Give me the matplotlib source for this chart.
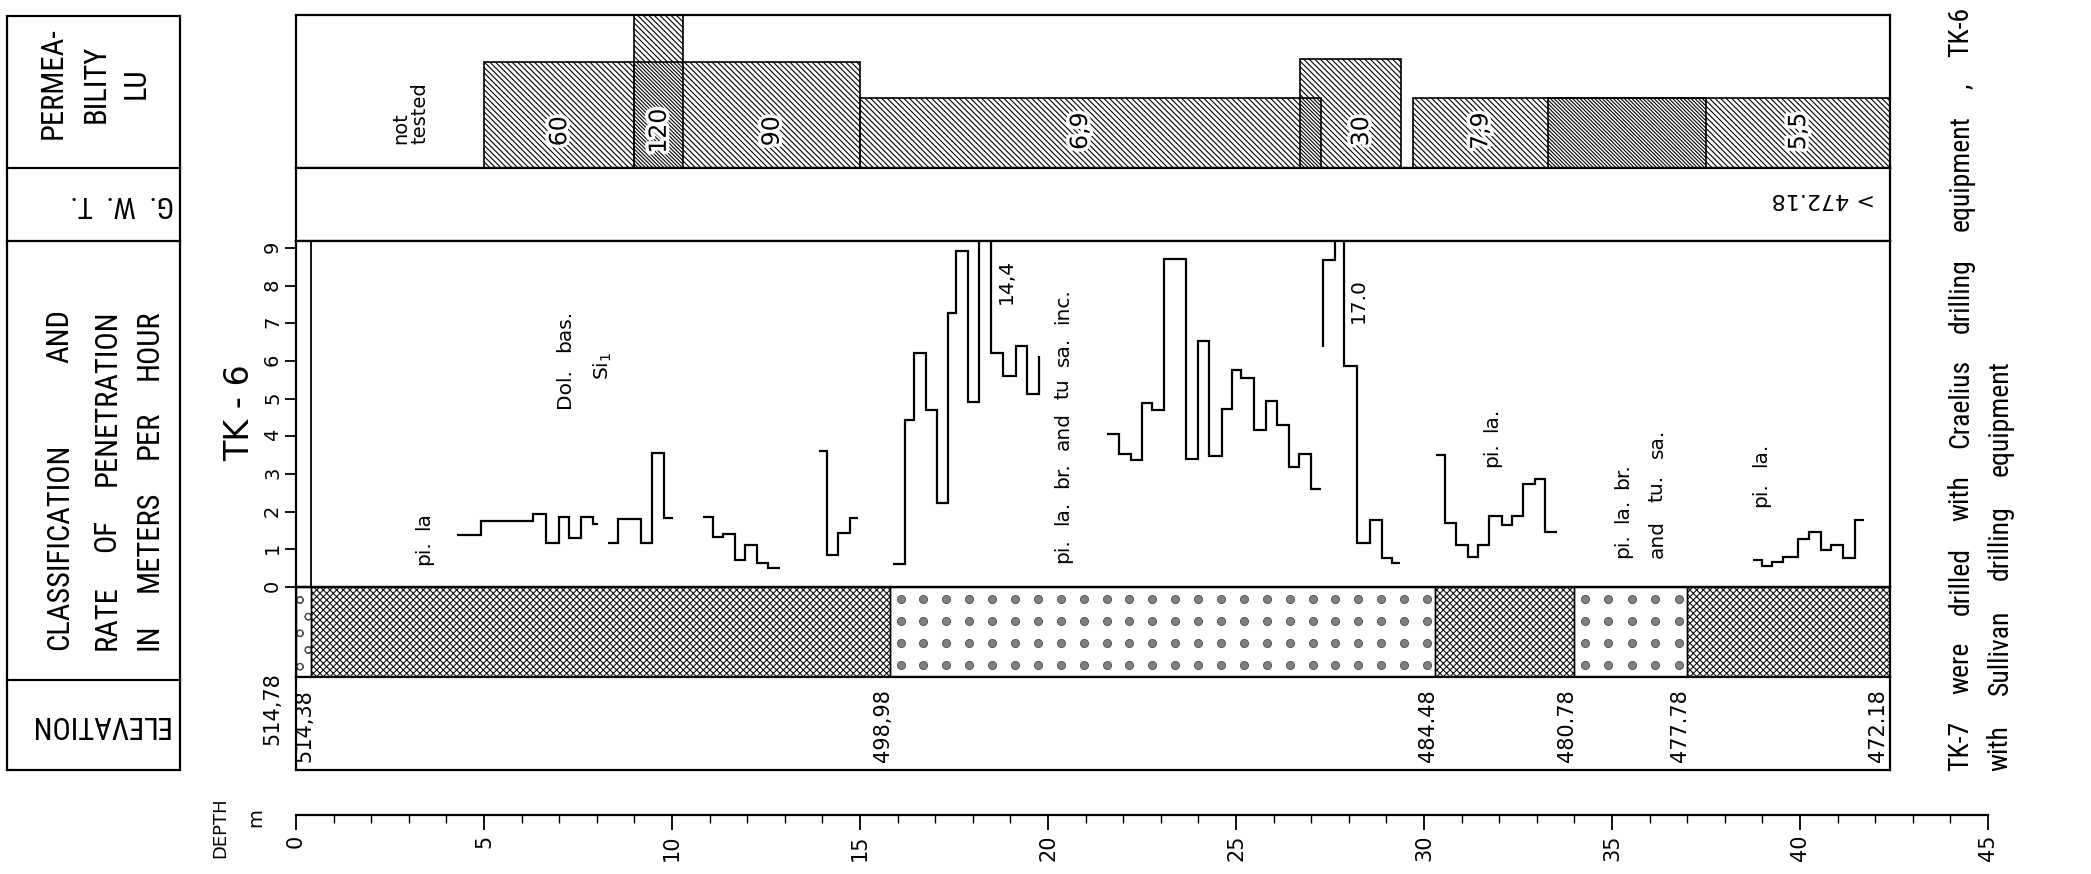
import numpy as np
import matplotlib
matplotlib.use('Agg')
import matplotlib.pyplot as plt
from matplotlib.patches import Rectangle
from matplotlib.transforms import IdentityTransform
from matplotlib import font_manager
import matplotlib.patheffects as pe

# ------------------------------------------------------------------ data
depth_major_ticks = [0, 5, 10, 15, 20, 25, 30, 35, 40, 45]
depth_minor_ticks = list(range(0, 46))
rate_ticks = [0, 1, 2, 3, 4, 5, 6, 7, 8, 9]

collar_elevation = 514.78
elev_values = [514.78, 514.38, 498.98, 484.48, 480.78, 477.78, 472.18]
elev_labels = ['514,78', '514,38', '498,98', '484.48', '480.78', '477.78', '472.18']
lith_types = ['gravel', 'lava', 'tuff', 'lava', 'tuff', 'lava']

# permeability tests (depth from / to, Lugeon value, drawn bar level 0-1)
perm_from = [5.0, 9.0, 9.0, 15.0, 26.7, 29.7, 33.3]
perm_to = [9.0, 10.3, 15.0, 27.25, 29.4, 37.5, 42.4]
perm_lu = ['60', '120', '90', '6,9', '30', '7,9', '5,5']
perm_level = [0.69, 1.0, 0.69, 0.46, 0.71, 0.46, 0.46]

gwt_label = '> 472.18'

# rate of penetration (m/h), step segments: bin edges (depth m) and values
rop_edges_1 = [4.29, 4.92, 6.31, 6.65, 7.0, 7.26, 7.57, 7.89, 8.03]
rop_values_1 = [1.38, 1.75, 1.93, 1.18, 1.87, 1.29, 1.87, 1.66]
rop_edges_2 = [8.31, 8.57, 9.18, 9.46, 9.79, 10.03]
rop_values_2 = [1.18, 1.8, 1.18, 3.57, 1.82]
rop_edges_3 = [10.82, 11.1, 11.36, 11.68, 11.95, 12.27, 12.54, 12.86]
rop_values_3 = [1.85, 1.32, 1.42, 0.72, 1.12, 0.65, 0.50]
rop_edges_4 = [13.91, 14.11, 14.42, 14.74, 14.94]
rop_values_4 = [3.62, 0.85, 1.44, 1.82]
rop_edges_5 = [15.89, 16.2, 16.44, 16.76, 17.06, 17.35, 17.55, 17.86, 18.16,
               18.48, 18.79, 19.14, 19.45, 19.77, 19.77]
rop_values_5 = [0.6, 4.43, 6.2, 4.7, 2.22, 7.28, 8.93, 4.92, 14.4,
                6.2, 5.6, 6.39, 5.12, 6.13]
rop_edges_6 = [21.58, 21.9, 22.2, 22.5, 22.77, 23.08, 23.66, 23.98, 24.29, 24.62,
               24.89, 25.13, 25.48, 25.79, 26.08, 26.4, 26.68, 27.0, 27.26]
rop_values_6 = [4.06, 3.53, 3.36, 4.88, 4.7, 8.7, 3.39, 6.54, 3.47,
                4.73, 5.76, 5.54, 4.17, 4.94, 4.3, 3.19, 3.53, 2.59]
rop_edges_7 = [27.31, 27.31, 27.62, 27.88, 28.22, 28.56, 28.88, 29.15, 29.35]
rop_values_7 = [6.36, 8.68, 17.0, 5.87, 1.16, 1.79, 0.76, 0.65]
rop_edges_8 = [30.31, 30.57, 30.85, 31.16, 31.44, 31.73, 32.07, 32.35, 32.62,
               32.94, 33.22, 33.53]
rop_values_8 = [3.5, 1.69, 1.12, 0.79, 1.12, 1.88, 1.64, 1.88, 2.73, 2.86, 1.47]
rop_edges_9 = [38.75, 38.98, 39.25, 39.56, 39.96, 40.24, 40.56, 40.83, 41.14,
               41.46, 41.69]
rop_values_9 = [0.72, 0.57, 0.67, 0.79, 1.27, 1.47, 0.98, 1.12, 0.76, 1.78]

rop_segments = [(rop_edges_1, rop_values_1), (rop_edges_2, rop_values_2),
                (rop_edges_3, rop_values_3), (rop_edges_4, rop_values_4),
                (rop_edges_5, rop_values_5), (rop_edges_6, rop_values_6),
                (rop_edges_7, rop_values_7), (rop_edges_8, rop_values_8),
                (rop_edges_9, rop_values_9)]

# ------------------------------------------------------------------ fonts
def pick_font(candidates):
    for fam in candidates:
        try:
            font_manager.findfont(font_manager.FontProperties(family=fam),
                                  fallback_to_default=False)
            return fam
        except Exception:
            pass
    return 'DejaVu Sans'

NARROW = pick_font(['Liberation Sans Narrow', 'Roboto Condensed', 'DejaVu Sans'])
ROUND = 'DejaVu Sans'
narrow_scale = 1.0 if NARROW != 'DejaVu Sans' else 0.82

plt.rcParams['font.family'] = 'DejaVu Sans'
plt.rcParams['hatch.linewidth'] = 0.8

# ------------------------------------------------------------------ layout
W, H, DPI = 2091, 874, 100
fig = plt.figure(figsize=(W / DPI, H / DPI), dpi=DPI)
fig.patch.set_facecolor('white')

PX_PER_M = 37.6
X0 = 296
LOG_END = 42.4
X1 = X0 + LOG_END * PX_PER_M
Y_TOP, Y_PERM, Y_GWT, Y_RATE0, Y_LITH, Y_BOT = 15, 168, 241, 587, 677, 770
PX_PER_RATE = 37.67
LW = 1.6


def add_ax(x0, y0, x1, y1):
    return fig.add_axes([x0 / W, 1 - y1 / H, (x1 - x0) / W, (y1 - y0) / H])


def frame(ax):
    for s in ax.spines.values():
        s.set_linewidth(LW)
        s.set_color('black')
    ax.set_xticks([])
    ax.set_yticks([])


renderer = fig.canvas.get_renderer()


def spread(ax, words, x, y_start, y_end, fontsize, family, rotation=90):
    """Lay words out along a vertical line between two points (justified)."""
    xd, yd0 = ax.transData.transform((x, y_start))
    _, yd1 = ax.transData.transform((x, y_end))
    ts = [fig.text(0, 0, w, transform=IdentityTransform(), rotation=rotation,
                   ha='center', va='center', fontsize=fontsize, family=family)
          for w in words]
    hs = [t.get_window_extent(renderer).height for t in ts]
    if len(ts) == 1:
        ts[0].set_position((xd, (yd0 + yd1) / 2))
        return
    gap = ((yd1 - yd0) - sum(hs)) / (len(ts) - 1)
    y = yd0
    for t, h in zip(ts, hs):
        t.set_position((xd, y + h / 2))
        y += h + gap


# background axes in reference pixel coordinates (y downwards)
ax_bg = add_ax(0, 0, W, H)
ax_bg.set_xlim(0, W)
ax_bg.set_ylim(H, 0)
ax_bg.axis('off')

# ------------------------------------------------------------------ header boxes
ax_bg.add_patch(Rectangle((7, 16), 173, 754, fill=False, lw=LW, ec='black'))
for yy in (168, 241, 680):
    ax_bg.plot([7, 180], [yy, yy], color='black', lw=LW)

hfs = 22 * narrow_scale
spread(ax_bg, ['PERMEA-'], 53, 142, 25, hfs, NARROW)
spread(ax_bg, ['BILITY'], 96, 142, 25, hfs, NARROW)
spread(ax_bg, ['LU'], 136, 142, 25, hfs, NARROW)
ax_bg.text(122, 204, 'G.  W.  T.', rotation=180, ha='center', va='center',
           fontsize=21 * narrow_scale, family=NARROW)
spread(ax_bg, ['CLASSIFICATION', 'AND'], 60, 650, 309, hfs, NARROW)
spread(ax_bg, ['RATE', 'OF', 'PENETRATION'], 107, 650, 309, hfs, NARROW)
spread(ax_bg, ['IN', 'METERS', 'PER', 'HOUR'], 149, 650, 309, hfs, NARROW)
ax_bg.text(98, 724, 'ELEVATION', rotation=180, ha='center', va='center',
           fontsize=hfs, family=NARROW)

ax_bg.text(240, 413, 'TK - 6', rotation=90, ha='center', va='center',
           fontsize=24, family=ROUND)
ax_bg.text(220, 828, 'DEPTH', rotation=90, ha='center', va='center',
           fontsize=13, family=ROUND)
ax_bg.text(256, 818, 'm', rotation=90, ha='center', va='center',
           fontsize=14, family=ROUND)

# right-hand note
nfs = 20 * narrow_scale
spread(ax_bg, ['TK-7', 'were', 'drilled', 'with', 'Craelius', 'drilling',
               'equipment', ',', 'TK-6'], 1961, 771, 7, nfs, NARROW)
spread(ax_bg, ['with', 'Sullivan', 'drilling', 'equipment'], 2000, 771, 360,
       nfs, NARROW)

# ------------------------------------------------------------------ permeability band
ax_p = add_ax(X0, Y_TOP, X1, Y_PERM)
ax_p.set_xlim(0, LOG_END)
ax_p.set_ylim(0, 1)
frame(ax_p)
HATCH = '\\' * 6
HATCH_DENSE = '\\' * 9
for f, t, lv in zip(perm_from, perm_to, perm_level):
    ax_p.add_patch(Rectangle((f, 0), t - f, lv, facecolor='white', edgecolor='black',
                             hatch=HATCH, lw=0, zorder=1))
n = len(perm_from)
for i in range(n):
    for j in range(i + 1, n):
        lo = max(perm_from[i], perm_from[j])
        hi = min(perm_to[i], perm_to[j])
        if hi > lo:
            ax_p.add_patch(Rectangle((lo, 0), hi - lo, min(perm_level[i], perm_level[j]),
                                     facecolor='white', edgecolor='black',
                                     hatch=HATCH_DENSE, lw=0, zorder=2))
for f, t, lv in zip(perm_from, perm_to, perm_level):
    ax_p.add_patch(Rectangle((f, 0), t - f, lv, fill=False, edgecolor='black',
                             lw=1.2, zorder=3))
stroke = [pe.withStroke(linewidth=5, foreground='white')]
for i in range(n):
    lo, hi = perm_from[i], perm_to[i]
    for j in range(n):
        if j == i:
            continue
        if perm_from[j] <= lo < perm_to[j] and perm_to[j] < hi:
            lo = perm_to[j]
        if perm_from[j] < hi <= perm_to[j] and perm_from[j] > lo:
            hi = perm_from[j]
    ax_p.text((lo + hi) / 2, 0.24, perm_lu[i], rotation=90, ha='center', va='center',
              fontsize=17, zorder=5, path_effects=stroke)
ax_p.text(3.05, 0.36, 'not\ntested', rotation=90, ha='center', va='center',
          multialignment='left', fontsize=14, linespacing=1.0)

# ------------------------------------------------------------------ G.W.T. band
ax_g = add_ax(X0, Y_PERM, X1, Y_GWT)
ax_g.set_xlim(0, LOG_END)
ax_g.set_ylim(0, 1)
frame(ax_g)
ax_g.text(42.0, 0.58, gwt_label, rotation=180, ha='right', va='center', fontsize=16)

# ------------------------------------------------------------------ rate of penetration band
ax_r = add_ax(X0, Y_GWT, X1, Y_RATE0)
ax_r.set_xlim(0, LOG_END)
ax_r.set_ylim(0, (Y_RATE0 - Y_GWT) / PX_PER_RATE)
frame(ax_r)
ax_r.set_yticks(rate_ticks)
ax_r.tick_params(axis='y', direction='out', length=8, width=1.3, labelsize=14,
                 pad=2, labelrotation=90)
boundary_depths = [collar_elevation - e for e in elev_values]
ax_r.axvline(boundary_depths[1], color='black', lw=1.3)
for edges, vals in rop_segments:
    ax_r.stairs(vals, edges, baseline=None, color='black', lw=1.6)

rfs = 14.5
spread(ax_r, ['pi.', 'la'], 3.4, 0.58, 1.99, rfs, ROUND)
spread(ax_r, ['Dol.', 'bas.'], 7.15, 4.75, 7.35, rfs, ROUND)
ax_r.text(8.15, 5.87, 'Si$_{1}$', rotation=90, ha='center', va='center', fontsize=rfs)
ax_r.text(18.9, 8.1, '14,4', rotation=90, ha='center', va='center', fontsize=rfs)
spread(ax_r, ['pi.', 'la.', 'br.', 'and', 'tu', 'sa.', 'inc.'], 20.4, 0.64, 7.94,
       rfs, ROUND)
ax_r.text(28.25, 7.6, '17.0', rotation=90, ha='center', va='center', fontsize=rfs)
spread(ax_r, ['pi.', 'la.'], 31.8, 3.19, 4.75, rfs, ROUND)
spread(ax_r, ['pi.', 'la.', 'br.'], 35.27, 0.77, 3.28, rfs, ROUND)
spread(ax_r, ['and', 'tu.', 'sa.'], 36.2, 0.77, 4.21, rfs, ROUND)
spread(ax_r, ['pi.', 'la.'], 38.95, 2.13, 3.82, rfs, ROUND)

# ------------------------------------------------------------------ lithology band
ax_l = add_ax(X0, Y_RATE0, X1, Y_LITH)
ax_l.set_xlim(0, LOG_END)
ax_l.set_ylim(0, 1)
frame(ax_l)
dot_rows = [0.135, 0.38, 0.62, 0.865]
for k, kind in enumerate(lith_types):
    a, b = boundary_depths[k], boundary_depths[k + 1]
    if kind == 'gravel':
        ax_l.add_patch(Rectangle((a, 0), b - a, 1, facecolor='white', edgecolor='#555555',
                                 hatch='o', lw=0, zorder=1))
    elif kind == 'lava':
        ax_l.add_patch(Rectangle((a, 0), b - a, 1, facecolor='white', edgecolor='#111111',
                                 hatch='xxxxx', lw=0, zorder=1))
    else:
        ncol = int(round((b - a - 0.5) / 0.61)) + 1
        cols = np.linspace(a + 0.28, b - 0.22, ncol)
        gx, gy = np.meshgrid(cols, dot_rows)
        ax_l.scatter(gx.ravel(), gy.ravel(), s=34, color='#808080',
                     edgecolors='#4a4a4a', linewidths=0.6, zorder=2)
    ax_l.add_patch(Rectangle((a, 0), b - a, 1, fill=False, edgecolor='black',
                             lw=1.0, zorder=3))

# ------------------------------------------------------------------ elevation band
ax_e = add_ax(X0, Y_LITH, X1, Y_BOT)
ax_e.set_xlim(0, LOG_END)
ax_e.set_ylim(0, 1)
frame(ax_e)
for d, lab in zip(boundary_depths, elev_labels):
    if d == 0:
        # collar elevation is written just outside the frame
        ax_e.text(-0.35, 0.27, lab, rotation=90, ha='right', va='bottom',
                  fontsize=15, clip_on=False)
    else:
        ax_e.text(min(d + 0.08, LOG_END - 0.05), 0.09, lab, rotation=90, ha='right',
                  va='bottom', fontsize=15, clip_on=False)

# ------------------------------------------------------------------ depth scale
ax_d = add_ax(X0, 814, X0 + 45 * PX_PER_M, 815)
ax_d.set_xlim(0, 45)
ax_d.patch.set_visible(False)
for side in ('top', 'left', 'right'):
    ax_d.spines[side].set_visible(False)
ax_d.spines['bottom'].set_linewidth(LW)
ax_d.set_yticks([])
ax_d.set_xticks(depth_major_ticks)
ax_d.set_xticks(depth_minor_ticks, minor=True)
ax_d.tick_params(axis='x', which='major', direction='out', length=11, width=1.3,
                 labelsize=15, labelrotation=90, pad=3)
ax_d.tick_params(axis='x', which='minor', direction='out', length=6, width=1.0)

fig.savefig('out.png', dpi=DPI, facecolor='white')
